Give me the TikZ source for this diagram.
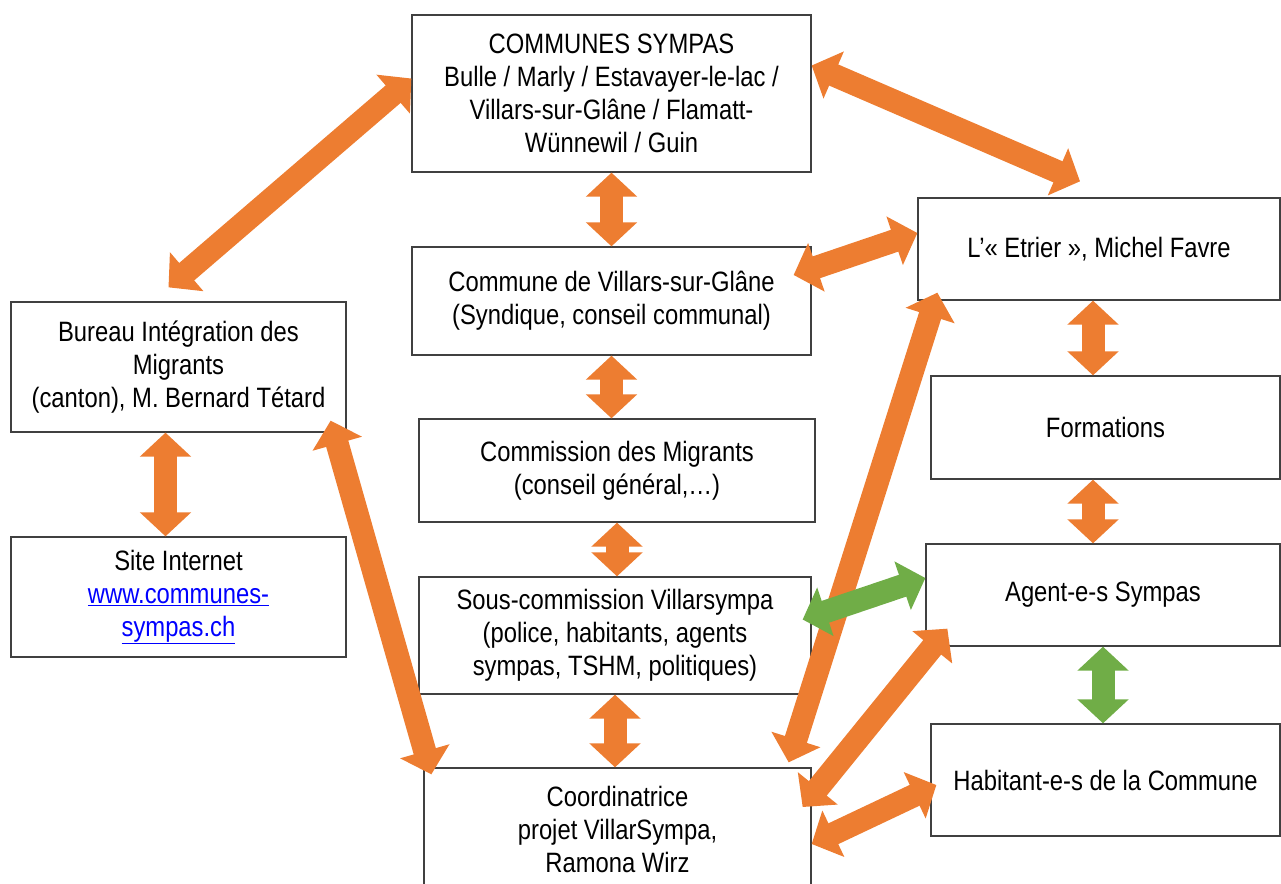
\documentclass[tikz,border=0pt]{standalone}
\usepackage{fontspec}
\setmainfont{Liberation Sans}[FakeStretch=0.85]
\usetikzlibrary{arrows.meta, calc}
\definecolor{myorange}{RGB}{237,125,49}
\definecolor{mygreen}{RGB}{112,173,71}
\definecolor{mylink}{RGB}{0,0,255}

\tikzset{
	box/.style={draw=black!75, line width=1.3pt, fill=white, align=center, inner sep=0pt, font=\fontsize{28}{33}\selectfont},
	link/.style={line width=23pt, draw=myorange, {Triangle[length=24pt,width=50pt]}-{Triangle[length=24pt,width=50pt]}},
	greenlink/.style={link, draw=mygreen}
}

\begin{document}
\begin{tikzpicture}[x=1pt, y=-1pt]

\useasboundingbox (0,0) rectangle (1281,883);

%---------CENTRE-----------%
\node [box, minimum width=399pt, minimum height=157pt] (communes) at (611.5,93.5)
	{COMMUNES SYMPAS\\Bulle / Marly / Estavayer-le-lac /\\Villars-sur-Glâne / Flamatt-\\Wünnewil / Guin};
\node [box, minimum width=399pt, minimum height=108pt] (villars) at (611.5,301)
	{Commune de Villars-sur-Glâne\\(Syndique, conseil communal)};
\node [box, minimum width=396pt, minimum height=103pt] (commission) at (617,470.5)
	{Commission des Migrants\\(conseil général,…)};
\node [box, minimum width=392pt, minimum height=117pt] (souscom) at (615,635.5)
	{Sous-commission Villarsympa\\(police, habitants, agents\\sympas, TSHM, politiques)};
\node [box, minimum width=387pt, minimum height=122pt] (coord) at (617.5,829)
	{Coordinatrice\\projet VillarSympa,\\Ramona Wirz};

%---------LEFT-----------%
\node [box, minimum width=335pt, minimum height=130pt] (bureau) at (178.5,367)
	{Bureau Intégration des\\Migrants\\(canton), M. Bernard Tétard};
\node [box, minimum width=335pt, minimum height=120pt] (site) at (178.5,597)
	{Site Internet\\\textcolor{mylink}{\underline{www.communes-}}\\\textcolor{mylink}{\underline{sympas.ch}}};

%---------RIGHT-----------%
\node [box, minimum width=362pt, minimum height=102pt] (etrier) at (1099,249)
	{L’« Etrier », Michel Favre};
\node [box, minimum width=349pt, minimum height=103pt] (formations) at (1105.5,427.5)
	{Formations};
\node [box, minimum width=354pt, minimum height=102pt] (agents) at (1103,595)
	{Agent-e-s Sympas};
\node [box, minimum width=349pt, minimum height=112pt] (habitants) at (1105.5,780)
	{Habitant-e-s de la Commune};

%---------VERTICAL LINKS-------%
\draw [link] (communes.south) -- (communes.south |- villars.north);
\draw [link] (villars.south) -- (villars.south |- commission.north);
\draw [link] (commission.south) -- (commission.south |- souscom.north);
\draw [link] (souscom.south) -- (souscom.south |- coord.north);
\draw [link] ([xshift=-13pt]bureau.south) -- ([xshift=-13pt]site.north);
\draw [link] ([xshift=-6pt]etrier.south) -- ([xshift=-6pt]etrier.south |- formations.north);
\draw [link] ([xshift=-6pt]etrier.south |- formations.south) -- ([xshift=-6pt]etrier.south |- agents.north);

%---------DIAGONAL LINKS-------%
\draw [link] ([yshift=15pt]communes.west) -- ([xshift=-10pt,yshift=14pt]bureau.north);
\draw [link] ([yshift=28pt]communes.east) -- ([xshift=-19pt,yshift=16pt]etrier.north);
\draw [link] ([xshift=-18pt,yshift=26pt]villars.east) -- ([yshift=16pt]etrier.west);
\draw [link] ([xshift=-16pt,yshift=12pt]bureau.south east) -- ([xshift=8pt,yshift=-7pt]coord.north west);
\draw [link] ([xshift=20pt,yshift=8pt]etrier.south west) -- ([xshift=-23pt,yshift=5pt]coord.north east);
\draw [link] ([xshift=22pt,yshift=18pt]agents.south west) -- ([xshift=-9pt,yshift=22pt]coord.east);
\draw [link] ([xshift=6pt,yshift=-5pt]habitants.west) -- ([yshift=-15pt]coord.east);

%---------GREEN LINKS-------%
\draw [greenlink] ([xshift=-9pt,yshift=16pt]souscom.east) -- ([yshift=17pt]agents.west);
\draw [greenlink] (agents.south) -- (agents.south |- habitants.north);

\end{tikzpicture}
\end{document}
